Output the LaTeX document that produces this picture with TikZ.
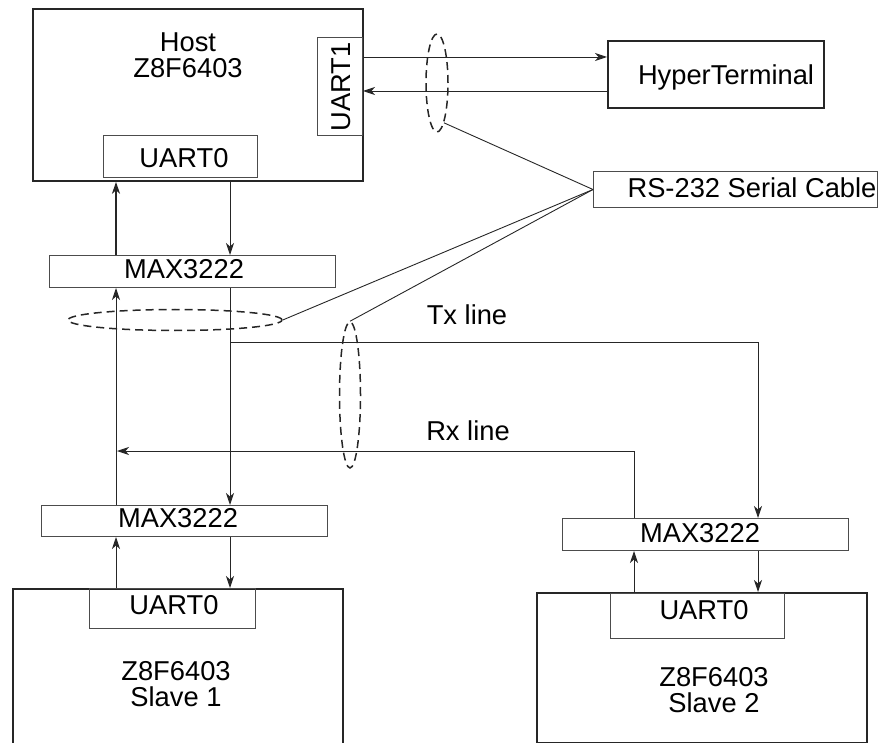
\documentclass[tikz,border=0pt]{standalone}
\usepackage{fontspec}
\setmainfont{Liberation Sans}
\usetikzlibrary{arrows.meta,calc,shapes.geometric}

\begin{document}
\begin{tikzpicture}[x=1pt,y=-1pt,
  txt/.style={font=\fontsize{27.3}{26}\selectfont, inner sep=0pt},
  board/.style={draw=black!85, line width=1.8pt, anchor=north west, inner sep=0pt},
  part/.style={draw=black!70, line width=1pt, anchor=north west, inner sep=0pt},
  wire/.style={draw=black!85, line width=0.9pt},
  arr/.style={wire, -{Stealth[length=12pt,width=8pt,inset=3.5pt]}},
  cable/.style={ellipse, draw=black!85, line width=1.5pt, dash pattern=on 8pt off 5pt, inner sep=0pt}]
  \clip (0,0) rectangle (878,743);
  % boards and chips
  \node[board, minimum width=330pt, minimum height=172pt] (host) at (32,8) {};
  \node[part, minimum width=45pt, minimum height=98pt] (uart1) at (317,37) {};
  \node[part, minimum width=154pt, minimum height=42pt] (uartH) at (103,135) {};
  \node[board, minimum width=216pt, minimum height=67pt] (ht) at (607,40) {};
  \node[part, minimum width=284pt, minimum height=36pt] (cab) at (593,171) {};
  \node[part, minimum width=286pt, minimum height=32pt] (maxH) at (49,255) {};
  \node[part, minimum width=286pt, minimum height=31pt] (maxA) at (41,505) {};
  \node[part, minimum width=286pt, minimum height=32pt] (maxB) at (562,518) {};
  \node[board, minimum width=330pt, minimum height=165pt] (slaveA) at (12,588) {};
  \node[part, minimum width=166pt, minimum height=40pt] (uartA) at (89,588) {};
  \node[board, minimum width=330pt, minimum height=150pt] (slaveB) at (536,592) {};
  \node[part, minimum width=174pt, minimum height=45pt] (uartB) at (610,593) {};
  % texts
  \node[txt, align=center] (hostlbl) at (188,55) {Host\\Z8F6403};
  \node[txt, rotate=90] (uart1lbl) at (341,87) {UART1};
  \node[txt, anchor=base] (htlbl) at (726,85) {HyperTerminal};
  \node[txt, anchor=base] (cablbl) at (752,198) {RS-232 Serial Cable};
  \node[txt, anchor=base] (uartHlbl) at (184,168) {UART0};
  \node[txt, anchor=base] (maxHlbl) at (184,279) {MAX3222};
  \node[txt, anchor=base] (maxAlbl) at (178,527) {MAX3222};
  \node[txt, anchor=base] (uartAlbl) at (174,614) {UART0};
  \node[txt, align=center] (slaveAlbl) at (176,684) {Z8F6403\\Slave 1};
  \node[txt, anchor=base] (maxBlbl) at (700,542) {MAX3222};
  \node[txt, anchor=base] (uartBlbl) at (704,619) {UART0};
  \node[txt, align=center] (slaveBlbl) at (714,690) {Z8F6403\\Slave 2};
  \node[txt, anchor=base] (txlbl) at (467,324) {Tx line};
  \node[txt, anchor=base] (rxlbl) at (468,440) {Rx line};
  % cable marks
  \node[cable, minimum width=22pt, minimum height=98pt] (cabA) at (437,83) {};
  \node[cable, minimum width=214pt, minimum height=21pt] (cabB) at (175,320) {};
  \node[cable, minimum width=21pt, minimum height=146pt] (cabC) at (350,395) {};
  \draw[wire] (cab.west) -- (cabA.-80);
  \draw[wire] (cab.west) -- (cabB.east);
  \draw[wire] (cab.west) -- (cabC.north);
  % columns of the signal lines
  \coordinate (colA) at (116,0);
  \coordinate (colB) at (230,0);
  \coordinate (colC) at (634,0);
  \coordinate (colD) at (758,0);
  \coordinate (txs) at (230,342);
  \coordinate (rxe) at (117,451);
  % UART1 <-> HyperTerminal
  \path ([yshift=-20pt]uart1.north east) coordinate (u1tx);
  \path ([yshift=-54pt]uart1.north east) coordinate (u1rx);
  \draw[arr] (u1tx) -- (u1tx -| ht.west);
  \draw[arr] (u1rx -| ht.west) -- (u1rx);
  % host
  \draw[arr, line width=1.5pt] (colA |- maxH.north) -- (colA |- host.south);
  \draw[arr] (colB |- host.south) -- (colB |- maxH.north);
  % bus
  \draw[arr] (colB |- maxH.south) -- (colB |- maxA.north);
  \draw[arr] (colA |- maxA.north) -- (colA |- maxH.south);
  \draw[arr] (txs) -| (colD |- maxB.north);
  \draw[arr] (colC |- maxB.north) |- (rxe);
  % slaves
  \draw[arr] (colA |- slaveA.north) -- (colA |- maxA.south);
  \draw[arr] (colB |- maxA.south) -- (colB |- slaveA.north);
  \draw[arr] (colC |- slaveB.north) -- (colC |- maxB.south);
  \draw[arr] (colD |- maxB.south) -- (colD |- slaveB.north);
\end{tikzpicture}
\end{document}
